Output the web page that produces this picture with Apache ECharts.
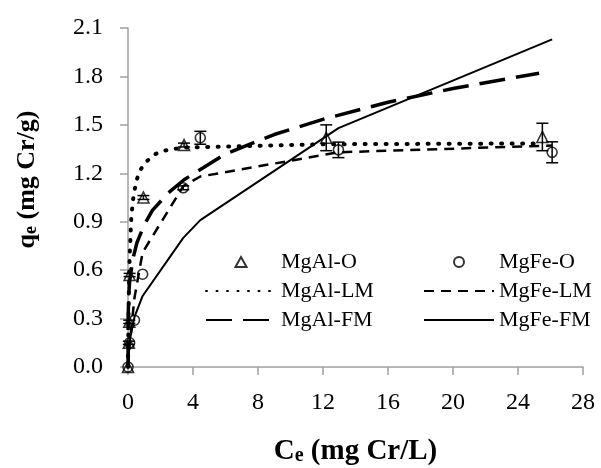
<!DOCTYPE html>
<html>
<head>
<meta charset="utf-8">
<script src="https://cdn.jsdelivr.net/npm/echarts@6/dist/echarts.min.js"></script>
<style>
html, body { margin: 0; padding: 0; background: #fff; }
#chart { width: 601px; height: 468px; }
</style>
</head>
<body>
<div id="chart"></div>
<script>
// observed data (Ce, qe, error)
var alC = [0, 0.05, 0.08, 0.1, 0.95, 3.45, 12.2, 25.5];
var alQ = [0, 0.15, 0.28, 0.57, 1.05, 1.375, 1.42, 1.425];
var alErr = [0, 0.01, 0.01, 0.01, 0.012, 0.012, 0.08, 0.085];

var feC = [0, 0.1, 0.4, 0.9, 3.4, 4.45, 12.95, 26.1];
var feQ = [0, 0.15, 0.29, 0.575, 1.11, 1.42, 1.345, 1.33];
var feErr = [0, 0, 0, 0, 0.012, 0.04, 0.048, 0.065];

// model curves
var alLmC = [0, 0.02, 0.05, 0.1, 0.2, 0.3, 0.5, 0.75, 1.1, 1.7, 2.2, 3.45, 12.2, 25.0];
var alLmQ = [0, 0.22, 0.45, 0.68, 0.92, 1.03, 1.15, 1.22, 1.27, 1.32, 1.34, 1.36, 1.38, 1.385];

var alFmC = [0, 0.01, 0.05, 0.1, 0.3, 0.55, 1, 1.5, 2.5, 3.45, 6, 9, 12.2, 16, 20, 25.3];
var alFmQ = [0, 0.31, 0.45, 0.53, 0.67, 0.77, 0.88, 0.97, 1.08, 1.16, 1.32, 1.44, 1.54, 1.64, 1.725, 1.82];

var feLmC = [0, 0.1, 0.4, 0.9, 3.4, 4.45, 12.95, 26.1];
var feLmQ = [0, 0.14, 0.43, 0.71, 1.12, 1.18, 1.33, 1.372];

var feFmC = [0, 0.1, 0.4, 0.9, 3.4, 4.45, 12.95, 26.1];
var feFmQ = [0, 0.16, 0.31, 0.44, 0.80, 0.91, 1.48, 2.03];

var font = "'Liberation Serif', 'Times New Roman', serif";
var triIcon = 'path://M5,0L10,9L0,9Z';

function pairs(xs, ys) {
  return xs.map(function (x, i) { return [x, ys[i]]; });
}
function errData(xs, ys, es) {
  var out = [];
  xs.forEach(function (x, i) {
    if (es[i] > 0) out.push([x, ys[i], es[i]]);
  });
  return out;
}

function errorBar(params, api) {
  var x = api.value(0), y = api.value(1), e = api.value(2);
  var top = api.coord([x, y + e]);
  var bot = api.coord([x, y - e]);
  var w = 6;
  var st = { stroke: '#000', lineWidth: 1.5 };
  return {
    type: 'group',
    children: [
      { type: 'line', shape: { x1: top[0], y1: top[1], x2: bot[0], y2: bot[1] }, style: st },
      { type: 'line', shape: { x1: top[0] - w, y1: top[1], x2: top[0] + w, y2: top[1] }, style: st },
      { type: 'line', shape: { x1: bot[0] - w, y1: bot[1], x2: bot[0] + w, y2: bot[1] }, style: st }
    ]
  };
}

var chart = echarts.init(document.getElementById('chart'));

var legendText = { fontFamily: font, fontSize: 22, color: '#000', lineHeight: 22 };
var axisGray = '#a0a0a0';
var noMark = { color: 'rgba(0,0,0,0)', borderWidth: 0 };

function titleRich(size) {
  return {
    b: { fontFamily: font, fontSize: size, fontWeight: 'bold', color: '#000', lineHeight: size, verticalAlign: 'middle' },
    s: { fontFamily: font, fontSize: Math.round(size * 0.68), fontWeight: 'bold', color: '#000', lineHeight: 18, padding: [22, 0, 0, 0], verticalAlign: 'bottom' }
  };
}

chart.setOption({
  animation: false,
  backgroundColor: '#fff',
  grid: { left: 128, right: 18, top: 28, bottom: 101, containLabel: false, outerBoundsMode: 'none' },
  legend: [
    {
      data: [{ name: 'MgAl-O', icon: triIcon }, 'MgAl-LM', 'MgAl-FM'],
      orient: 'vertical', left: 200, top: 246,
      itemWidth: 70, itemHeight: 10, itemGap: 7,
      textStyle: legendText
    },
    {
      data: ['MgFe-O', 'MgFe-LM', 'MgFe-FM'],
      orient: 'vertical', left: 418, top: 246,
      itemWidth: 70, itemHeight: 10, itemGap: 7,
      textStyle: legendText
    }
  ],
  xAxis: {
    type: 'value', min: 0, max: 28, interval: 4,
    name: '{b|C}{s|e}{b| (mg Cr/L)}',
    nameLocation: 'middle', nameGap: 70,
    nameTextStyle: { rich: titleRich(29) },
    axisLine: { lineStyle: { color: axisGray, width: 1.5 } },
    axisTick: { show: true, length: 8, lineStyle: { color: axisGray, width: 1.5 } },
    axisLabel: { fontFamily: font, fontSize: 24, color: '#000', margin: 24 },
    splitLine: { show: false }
  },
  yAxis: {
    type: 'value', min: 0, max: 2.1, interval: 0.3,
    name: '{b|q}{s|e}{b| (mg Cr/g)}',
    nameLocation: 'middle', nameGap: 88,
    nameTextStyle: { rich: titleRich(26), padding: [0, 0, 0, 36] },
    axisLine: { show: true, lineStyle: { color: axisGray, width: 1.5 } },
    axisTick: { show: true, length: 8, lineStyle: { color: axisGray, width: 1.5 } },
    axisLabel: {
      fontFamily: font, fontSize: 24, color: '#000', margin: 25,
      formatter: function (v) { return v.toFixed(1); }
    },
    splitLine: { show: false }
  },
  series: [
    {
      name: 'MgAl-LM', type: 'line', data: pairs(alLmC, alLmQ), showSymbol: false, symbol: 'none',
      itemStyle: noMark,
      lineStyle: { color: '#000', width: 4, type: [1, 9.5], cap: 'round' }
    },
    {
      name: 'MgAl-FM', type: 'line', data: pairs(alFmC, alFmQ), showSymbol: false, symbol: 'none',
      itemStyle: noMark,
      lineStyle: { color: '#000', width: 3.5, type: [26, 11] }
    },
    {
      name: 'MgFe-LM', type: 'line', data: pairs(feLmC, feLmQ), showSymbol: false, symbol: 'none',
      itemStyle: noMark,
      lineStyle: { color: '#000', width: 2.5, type: [10, 7] }
    },
    {
      name: 'MgFe-FM', type: 'line', data: pairs(feFmC, feFmQ), showSymbol: false, symbol: 'none',
      itemStyle: noMark,
      lineStyle: { color: '#000', width: 2 }
    },
    {
      name: 'errAl', type: 'custom', renderItem: errorBar, data: errData(alC, alQ, alErr), z: 3
    },
    {
      name: 'errFe', type: 'custom', renderItem: errorBar, data: errData(feC, feQ, feErr), z: 3
    },
    {
      name: 'MgAl-O', type: 'scatter', data: pairs(alC, alQ), symbol: 'triangle', symbolSize: 11, z: 4,
      itemStyle: { color: 'rgba(255,255,255,0)', borderColor: '#000', borderWidth: 1.6 }
    },
    {
      name: 'MgFe-O', type: 'scatter', data: pairs(feC, feQ), symbol: 'circle', symbolSize: 10, z: 4,
      itemStyle: { color: 'rgba(255,255,255,0)', borderColor: '#000', borderWidth: 1.6 }
    }
  ]
});
</script>
</body>
</html>
